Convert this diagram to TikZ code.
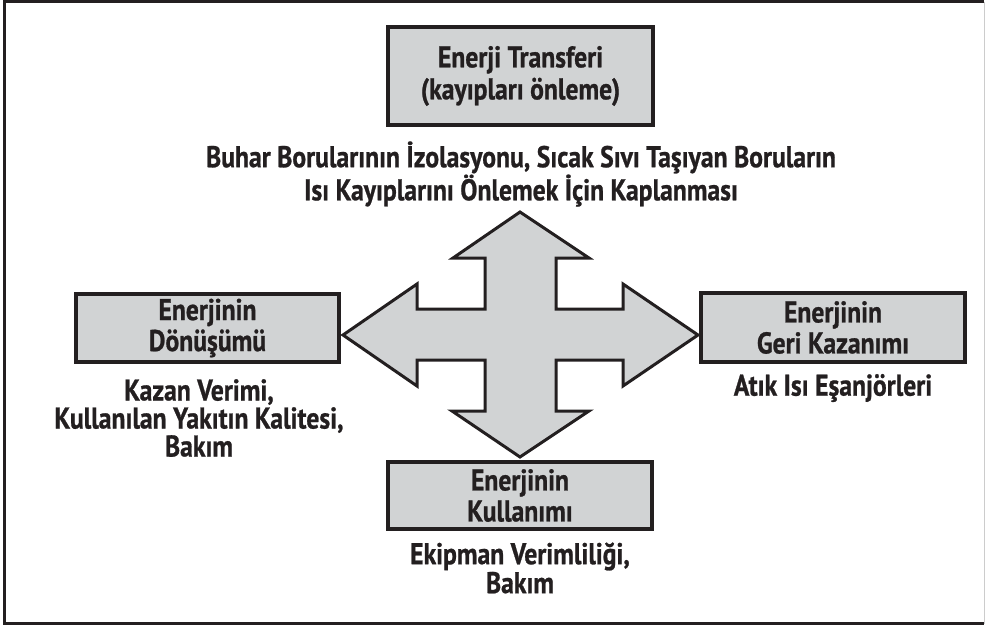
\documentclass[tikz,border=0pt]{standalone}
\usepackage{fontspec}
\setmainfont{PT Sans Bold}[FakeStretch=0.855,FakeBold=0.8]
\definecolor{ink}{HTML}{231F20}
\definecolor{panel}{HTML}{D1D3D4}
\begin{document}
\begin{tikzpicture}[x=1pt,y=-1pt,
  box/.style={draw=ink,line width=3.5pt,fill=panel,minimum width=#1,inner sep=0pt},
  lbl/.style={text=ink,align=center,font=\fontsize{30}{#1}\selectfont,inner sep=0pt},
  cross/.style={draw=ink,line width=3pt,fill=panel,line join=miter}]
\useasboundingbox (0,0) rectangle (985,627);
% outer frame
\draw[ink,line width=3pt] (984,1.5) -- (4.5,1.5) -- (4.5,623.5) -- (984,623.5);
\draw[gray!40,line width=1pt] (984,1.5) -- (984,623.5);

% four-way arrow
\draw[cross] (520,212) -- (589,258) -- (556,258) -- (556,309) -- (623,309) -- (623,284)
  -- (698,335) -- (623,386) -- (623,360) -- (556,360) -- (556,411) -- (589,411)
  -- (520,457) -- (452,411) -- (485,411) -- (485,360) -- (417,360) -- (417,386)
  -- (343,335) -- (417,284) -- (417,309) -- (485,309) -- (485,258) -- (453,258) -- cycle;

% boxes
\node[box=265pt,minimum height=98pt] (transfer) at (520.5,76) {};
\node[box=263pt,minimum height=68pt] (donusum) at (207.5,328) {};
\node[box=264pt,minimum height=69pt] (geri) at (833,327.5) {};
\node[box=264pt,minimum height=67pt] (kullanim) at (520,495.5) {};

% box titles
\node[lbl=32pt] (transferT) at (transfer) {Enerji Transferi\\(kayıpları önleme)};
\node[lbl=31pt] (donusumT) at (donusum) {Enerjinin\\Dönüşümü};
\node[lbl=31pt] (geriT) at (geri) {Enerjinin\\Geri Kazanımı};
\node[lbl=31pt] (kullanimT) at (kullanim) {Enerjinin\\Kullanımı};

% descriptions
\node[lbl=32pt] (transferD) at (521,174) {Buhar Borularının İzolasyonu, Sıcak Sıvı Taşıyan Boruların\\Isı Kayıplarını Önlemek İçin Kaplanması};
\node[lbl=28pt] (donusumD) at (199,418) {Kazan Verimi,\\Kullanılan Yakıtın Kalitesi,\\Bakım};
\node[lbl=28pt] (geriD) at (833,388) {Atık Isı Eşanjörleri};
\node[lbl=29pt] (kullanimD) at (520,568) {Ekipman Verimliliği,\\Bakım};
\end{tikzpicture}
\end{document}
